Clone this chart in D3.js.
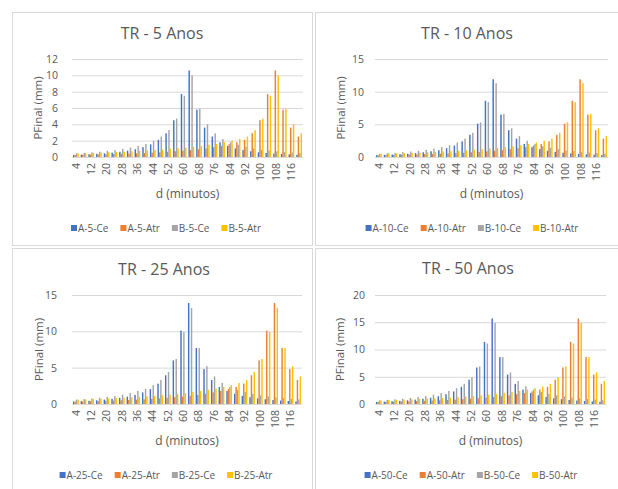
<!DOCTYPE html>
<html>
<head>
<meta charset="utf-8">
<script src="https://cdn.jsdelivr.net/npm/d3@7"></script>
<style>
  body { margin: 0; background: #fff; }
  svg { display: block; font-family: "Open Sans", sans-serif; }
</style>
</head>
<body>
<div id="chart"></div>
<script>
// duration (minutos), one category every 4 min
const minutes = [4, 8, 12, 16, 20, 24, 28, 32, 36, 40, 44, 48, 52, 56, 60,
  64, 68, 72, 76, 80, 84, 88, 92, 96, 100, 104, 108, 112, 116, 120];

const titles = ['TR - 5 Anos', 'TR - 10 Anos', 'TR - 25 Anos', 'TR - 50 Anos'];
const seriesNames = [
  ['A-5-Ce', 'A-5-Atr', 'B-5-Ce', 'B-5-Atr'],
  ['A-10-Ce', 'A-10-Atr', 'B-10-Ce', 'B-10-Atr'],
  ['A-25-Ce', 'A-25-Atr', 'B-25-Ce', 'B-25-Atr'],
  ['A-50-Ce', 'A-50-Atr', 'B-50-Ce', 'B-50-Atr']
];
const yMax = [12, 15, 15, 20];
const yStep = [2, 5, 5, 5];

// PFinal (mm)
const tr5_A_Ce = [0.25, 0.29, 0.33, 0.39, 0.45, 0.53, 0.64, 0.78, 0.95, 1.2, 1.55, 2.1, 2.9, 4.5, 7.7,
  10.6, 5.8, 3.6, 2.5, 1.8, 1.35, 1.05, 0.85, 0.7, 0.58, 0.49, 0.42, 0.36, 0.31, 0.27];
const tr5_A_Atr = [0.25, 0.27, 0.29, 0.31, 0.33, 0.36, 0.39, 0.42, 0.45, 0.49, 0.53, 0.58, 0.64, 0.7, 0.78,
  0.85, 0.95, 1.05, 1.2, 1.35, 1.55, 1.8, 2.1, 2.9, 4.5, 7.7, 10.6, 5.8, 3.6, 2.5];
const tr5_B_Ce = [0.45, 0.5, 0.57, 0.65, 0.75, 0.85, 1.0, 1.15, 1.35, 1.6, 2.0, 2.5, 3.3, 4.7, 7.5,
  10.0, 5.9, 4.0, 2.9, 2.2, 1.8, 1.5, 1.25, 1.05, 0.9, 0.8, 0.7, 0.6, 0.54, 0.47];
const tr5_B_Atr = [0.45, 0.47, 0.5, 0.54, 0.57, 0.6, 0.65, 0.7, 0.75, 0.8, 0.85, 0.9, 1.0, 1.05, 1.15,
  1.25, 1.35, 1.5, 1.6, 1.8, 2.0, 2.2, 2.5, 3.3, 4.7, 7.5, 10.0, 5.9, 4.0, 2.9];

const tr10_A_Ce = [0.28, 0.32, 0.37, 0.44, 0.5, 0.6, 0.72, 0.87, 1.05, 1.35, 1.75, 2.4, 3.4, 5.1, 8.6,
  11.9, 6.5, 4.1, 2.8, 2.0, 1.5, 1.2, 0.95, 0.79, 0.65, 0.55, 0.47, 0.4, 0.35, 0.3];
const tr10_A_Atr = [0.28, 0.3, 0.32, 0.35, 0.37, 0.4, 0.44, 0.47, 0.5, 0.55, 0.6, 0.65, 0.72, 0.79, 0.87,
  0.95, 1.05, 1.2, 1.35, 1.5, 1.75, 2.0, 2.4, 3.4, 5.1, 8.6, 11.9, 6.5, 4.1, 2.8];
const tr10_B_Ce = [0.5, 0.57, 0.64, 0.73, 0.84, 0.95, 1.1, 1.3, 1.5, 1.8, 2.2, 2.8, 3.7, 5.3, 8.4,
  11.3, 6.6, 4.4, 3.2, 2.5, 2.0, 1.65, 1.4, 1.2, 1.0, 0.9, 0.78, 0.68, 0.6, 0.53];
const tr10_B_Atr = [0.5, 0.53, 0.57, 0.6, 0.64, 0.68, 0.73, 0.78, 0.84, 0.9, 0.95, 1.0, 1.1, 1.2, 1.3,
  1.4, 1.5, 1.65, 1.8, 2.0, 2.2, 2.5, 2.8, 3.7, 5.3, 8.4, 11.3, 6.6, 4.4, 3.2];

const tr25_A_Ce = [0.33, 0.38, 0.44, 0.51, 0.6, 0.71, 0.85, 1.02, 1.25, 1.6, 2.05, 2.8, 3.95, 6.0, 10.1,
  13.9, 7.7, 4.8, 3.3, 2.35, 1.8, 1.4, 1.12, 0.93, 0.77, 0.65, 0.55, 0.47, 0.41, 0.35];
const tr25_A_Atr = [0.33, 0.35, 0.38, 0.41, 0.44, 0.47, 0.51, 0.55, 0.6, 0.65, 0.71, 0.77, 0.85, 0.93, 1.02,
  1.12, 1.25, 1.4, 1.6, 1.8, 2.05, 2.35, 2.8, 3.95, 6.0, 10.1, 13.9, 7.7, 4.8, 3.3];
const tr25_B_Ce = [0.6, 0.67, 0.76, 0.86, 0.98, 1.12, 1.3, 1.5, 1.8, 2.1, 2.6, 3.3, 4.4, 6.2, 9.9,
  13.2, 7.7, 5.2, 3.8, 2.9, 2.35, 1.95, 1.65, 1.4, 1.2, 1.05, 0.92, 0.81, 0.71, 0.63];
const tr25_B_Atr = [0.6, 0.63, 0.67, 0.71, 0.76, 0.81, 0.86, 0.92, 0.98, 1.05, 1.12, 1.2, 1.3, 1.4, 1.5,
  1.65, 1.8, 1.95, 2.1, 2.35, 2.6, 2.9, 3.3, 4.4, 6.2, 9.9, 13.2, 7.7, 5.2, 3.8];

const tr50_A_Ce = [0.37, 0.43, 0.5, 0.58, 0.68, 0.8, 0.96, 1.16, 1.42, 1.8, 2.3, 3.15, 4.45, 6.7, 11.4,
  15.7, 8.6, 5.4, 3.7, 2.65, 2.0, 1.6, 1.28, 1.05, 0.88, 0.74, 0.63, 0.54, 0.46, 0.4];
const tr50_A_Atr = [0.37, 0.4, 0.43, 0.46, 0.5, 0.54, 0.58, 0.63, 0.68, 0.74, 0.8, 0.88, 0.96, 1.05, 1.16,
  1.28, 1.42, 1.6, 1.8, 2.0, 2.3, 2.65, 3.15, 4.45, 6.7, 11.4, 15.7, 8.6, 5.4, 3.7];
const tr50_B_Ce = [0.67, 0.76, 0.86, 0.97, 1.1, 1.27, 1.46, 1.7, 2.0, 2.4, 2.9, 3.7, 4.9, 6.9, 11.1,
  14.9, 8.6, 5.8, 4.2, 3.25, 2.65, 2.2, 1.85, 1.58, 1.36, 1.18, 1.03, 0.91, 0.8, 0.71];
const tr50_B_Atr = [0.67, 0.71, 0.76, 0.8, 0.86, 0.91, 0.97, 1.03, 1.1, 1.18, 1.27, 1.36, 1.46, 1.58, 1.7,
  1.85, 2.0, 2.2, 2.4, 2.65, 2.9, 3.25, 3.7, 4.9, 6.9, 11.1, 14.9, 8.6, 5.8, 4.2];

const panelData = [
  [tr5_A_Ce, tr5_A_Atr, tr5_B_Ce, tr5_B_Atr],
  [tr10_A_Ce, tr10_A_Atr, tr10_B_Ce, tr10_B_Atr],
  [tr25_A_Ce, tr25_A_Atr, tr25_B_Ce, tr25_B_Atr],
  [tr50_A_Ce, tr50_A_Atr, tr50_B_Ce, tr50_B_Atr]
];

const colors = ['#4472C4', '#ED7D31', '#A5A5A5', '#FFC000'];

// where each panel sits on the page
const layout = [
  { box: [12, 12, 300, 233], plot: [72, 303, 59, 157], titleX: 162, titleY: 39, yLabX: 38, tickX: 58, xTitY: 198, legY: 228, legX: 166 },
  { box: [315, 12, 310, 233], plot: [375, 608, 59, 157], titleX: 467, titleY: 39, yLabX: 341, tickX: 364, xTitY: 198, legY: 228, legX: 472 },
  { box: [12, 248, 300, 250], plot: [72, 302, 295, 404], titleX: 164, titleY: 275, yLabX: 39, tickX: 57, xTitY: 445, legY: 475, legX: 166 },
  { box: [315, 248, 310, 250], plot: [375, 606, 295, 404], titleX: 468, titleY: 274, yLabX: 340, tickX: 365, xTitY: 445, legY: 475, legX: 471 }
];

const w = 618;
const h = 489;
const textColor = '#595959';

const svg = d3.select('#chart')
  .append('svg')
  .attr('width', w)
  .attr('height', h);

svg.append('rect')
  .attr('width', w)
  .attr('height', h)
  .attr('fill', '#fff');

layout.forEach((L, p) => {
  const [left, right, top, bottom] = L.plot;

  // panel frame
  svg.append('rect')
    .attr('x', L.box[0] + 0.5)
    .attr('y', L.box[1] + 0.5)
    .attr('width', L.box[2])
    .attr('height', L.box[3])
    .attr('fill', 'none')
    .attr('stroke', '#d9d9d9');

  const x0 = d3.scaleBand()
    .domain(minutes)
    .range([left, right])
    .paddingInner(0.25)
    .paddingOuter(0.125);

  const x1 = d3.scaleBand()
    .domain(d3.range(4))
    .range([0, x0.bandwidth()]);

  const y = d3.scaleLinear()
    .domain([0, yMax[p]])
    .range([bottom, top]);

  const ticks = d3.range(0, yMax[p] + 0.001, yStep[p]);

  // gridlines
  const yAxis = d3.axisLeft(y)
    .tickValues(ticks)
    .tickSize(-(right - left))
    .tickPadding(left - L.tickX)
    .tickFormat(d3.format('d'));

  const gy = svg.append('g')
    .attr('transform', `translate(${left}, 0)`)
    .call(yAxis);
  gy.select('.domain').remove();
  gy.selectAll('.tick line').attr('stroke', '#d9d9d9');
  gy.selectAll('.tick text')
    .attr('fill', textColor)
    .style('font-size', '10.5px')
    .style('font-family', '"Open Sans", sans-serif');

  // bars
  const groups = svg.append('g')
    .selectAll('g')
    .data(minutes)
    .join('g')
    .attr('transform', d => `translate(${x0(d)}, 0)`);

  groups.selectAll('rect')
    .data((d, i) => panelData[p].map((s, k) => ({ k, v: s[i] })))
    .join('rect')
    .attr('x', d => x1(d.k))
    .attr('width', x1.bandwidth())
    .attr('y', d => y(d.v))
    .attr('height', d => y(0) - y(d.v))
    .attr('fill', d => colors[d.k]);

  // x axis, labels every 8 minutes, rotated
  const xAxis = d3.axisBottom(x0)
    .tickValues(minutes.filter((m, i) => i % 2 === 0))
    .tickSize(0)
    .tickPadding(0);

  const gx = svg.append('g')
    .attr('transform', `translate(0, ${bottom})`)
    .call(xAxis);
  gx.select('.domain').attr('stroke', '#d9d9d9');
  gx.selectAll('.tick text')
    .attr('fill', textColor)
    .style('font-size', '10.5px')
    .style('font-family', '"Open Sans", sans-serif')
    .attr('text-anchor', 'end')
    .attr('dy', '0.35em')
    .attr('transform', 'translate(0, 6) rotate(-90)')
    .attr('x', 0)
    .attr('y', 0);

  // titles
  svg.append('text')
    .attr('x', L.titleX)
    .attr('y', L.titleY)
    .attr('text-anchor', 'middle')
    .attr('fill', textColor)
    .style('font-size', '16px')
    .text(titles[p]);

  svg.append('text')
    .attr('transform', `translate(${L.yLabX}, ${(top + bottom) / 2}) rotate(-90)`)
    .attr('text-anchor', 'middle')
    .attr('dy', '0.35em')
    .attr('fill', textColor)
    .style('font-size', '11.5px')
    .text('PFinal (mm)');

  svg.append('text')
    .attr('x', (left + right) / 2)
    .attr('y', L.xTitY)
    .attr('text-anchor', 'middle')
    .attr('fill', textColor)
    .style('font-size', '12px')
    .text('d (minutos)');

  // legend
  const leg = svg.append('g');
  let cx = 0;
  seriesNames[p].forEach((name, k) => {
    leg.append('rect')
      .attr('x', cx)
      .attr('y', L.legY - 3)
      .attr('width', 6)
      .attr('height', 6)
      .attr('fill', colors[k]);
    const t = leg.append('text')
      .attr('x', cx + 7)
      .attr('y', L.legY)
      .attr('dy', '0.35em')
      .attr('fill', textColor)
      .style('font-size', '10px')
      .text(name);
    cx += 7 + t.node().getComputedTextLength() + 12;
  });
  const legW = cx - 12;
  leg.attr('transform', `translate(${L.legX - legW / 2}, 0)`);
});
</script>
</body>
</html>
